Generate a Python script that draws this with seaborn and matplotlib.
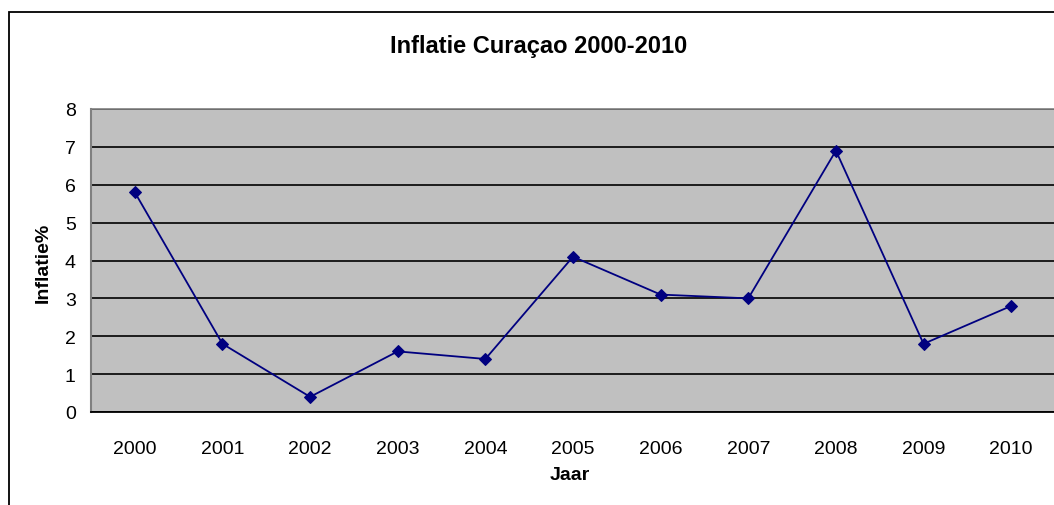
import seaborn as sns
import matplotlib.pyplot as plt
import matplotlib.patches as patches
import pandas as pd

jaren = ["2000", "2001", "2002", "2003", "2004", "2005", "2006", "2007", "2008", "2009", "2010"]
inflatie = [5.8, 1.8, 0.4, 1.6, 1.4, 4.1, 3.1, 3.0, 6.9, 1.8, 2.8]
y_ticks = [0, 1, 2, 3, 4, 5, 6, 7, 8]

df = pd.DataFrame({"Jaar": jaren, "Inflatie%": inflatie})

sns.set_style("white")
plt.rcParams['font.family'] = ['Liberation Sans', 'DejaVu Sans']
plt.rcParams['text.color'] = 'black'
plt.rcParams['xtick.color'] = 'black'
plt.rcParams['ytick.color'] = 'black'
plt.rcParams['xtick.labelcolor'] = 'black'
plt.rcParams['ytick.labelcolor'] = 'black'

W, H = 1054, 506
fig = plt.figure(figsize=(W / 100, H / 100), dpi=100)
fig.patch.set_facecolor("white")

# outer chart border (cut off at right and bottom like the original)
fig.patches.append(patches.Rectangle((9 / W, -0.1), 1.2, 1 - 13 / H + 0.1,
                                     transform=fig.transFigure, fill=False,
                                     ec="black", lw=1.3))

ax = fig.add_axes([91 / W, (H - 413) / H, (1055 - 91) / W, (413 - 110) / H])
ax.set_facecolor("#c0c0c0")

sns.lineplot(data=df, x="Jaar", y="Inflatie%", ax=ax, color="#000080",
             marker="D", markersize=6.5, markeredgecolor="#000080",
             linewidth=1.3, sort=False)

ax.set_xlim(-0.5, len(jaren) - 0.5)
ax.set_ylim(0, 8)
ax.set_yticks(y_ticks)
ax.grid(axis="y", color="black", linewidth=1.2)
ax.set_axisbelow(True)

ax.set_xticks(range(len(jaren)))
ax.set_xticklabels(jaren)
ax.set_xticks([i - 0.5 for i in range(len(jaren) + 1)], minor=True)
ax.tick_params(axis="x", which="major", length=0, pad=20, labelsize=14, labelcolor="black")
ax.tick_params(axis="x", which="minor", length=6, width=1.2, color="black", direction="out")
ax.tick_params(axis="y", length=6, width=1.2, color="black", direction="out", pad=5,
               labelsize=14, labelcolor="black")

for side in ["top", "right"]:
    ax.spines[side].set_color("#808080")
    ax.spines[side].set_linewidth(1.2)
ax.spines["left"].set_color("#808080")
ax.spines["left"].set_linewidth(1.5)
ax.spines["bottom"].set_color("black")
ax.spines["bottom"].set_linewidth(1.3)

ax.set_xlabel("")
ax.set_ylabel("")
fig.text(570 / W, 1 - 476 / H, "Jaar", ha="center", va="center", fontsize=14,
         fontweight="bold", color="black")
fig.text(43 / W, 1 - 263 / H, "Inflatie%", ha="center", va="center", rotation=90,
         fontsize=14, fontweight="bold", color="black")
fig.text(539 / W, 1 - 47 / H, "Inflatie Curaçao 2000-2010", ha="center", va="center",
         fontsize=17, fontweight="bold", color="black")

fig.savefig("out.png", dpi=100)
